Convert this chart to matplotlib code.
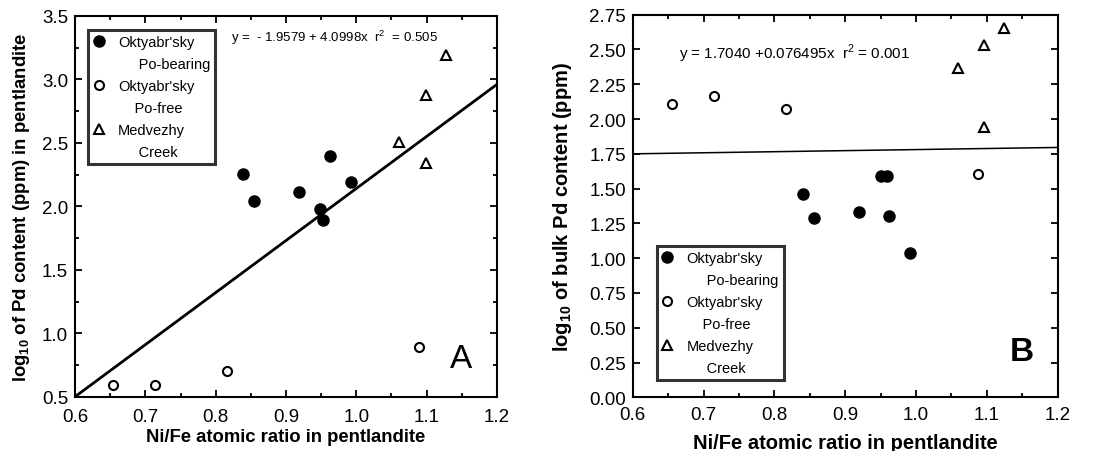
import matplotlib

matplotlib.use("Agg")
import matplotlib.pyplot as plt
from matplotlib.lines import Line2D
from matplotlib.ticker import MultipleLocator
import numpy as np

plt.rcParams["font.family"] = ["Liberation Sans", "DejaVu Sans"]
plt.rcParams["mathtext.fontset"] = "custom"
plt.rcParams["mathtext.rm"] = "Liberation Sans"
plt.rcParams["mathtext.bf"] = "Liberation Sans:bold"

# Panel A: Pd in pentlandite
a_bear_x = [0.839, 0.855, 0.919, 0.948, 0.952, 0.963, 0.992]
a_bear_y = [2.256, 2.041, 2.112, 1.980, 1.894, 2.395, 2.195]
a_free_x = [0.654, 0.714, 0.816, 1.089]
a_free_y = [0.597, 0.597, 0.702, 0.891]
a_med_x = [1.127, 1.099, 1.061, 1.099]
a_med_y = [3.193, 2.880, 2.510, 2.343]
a_fit = (-1.9579, 4.0998)

# Panel B: bulk Pd
b_bear_x = [0.840, 0.856, 0.919, 0.951, 0.959, 0.962, 0.991]
b_bear_y = [1.463, 1.290, 1.335, 1.588, 1.588, 1.302, 1.037]
b_free_x = [0.655, 0.715, 0.816, 1.088]
b_free_y = [2.110, 2.166, 2.069, 1.605]
b_med_x = [1.124, 1.096, 1.060, 1.096]
b_med_y = [2.654, 2.531, 2.365, 1.944]
b_fit = (1.7040, 0.076495)

legend_labels = ["Oktyabr'sky", "     Po-bearing", "Oktyabr'sky", "    Po-free", "Medvezhy", "     Creek"]


def draw_points(ax, bx, by, fx, fy, mx, my):
    ax.plot(bx, by, "o", ms=8, mfc="black", mec="black", ls="none")
    ax.plot(fx, fy, "o", ms=6.5, mfc="white", mec="black", mew=1.5, ls="none")
    ax.plot(mx, my, "^", ms=7.5, mfc="white", mec="black", mew=1.5, ls="none")


def add_legend(ax, anchor):
    blank = Line2D([], [], ls="none", marker=None)
    handles = [
        Line2D([], [], ls="none", marker="o", ms=8, mfc="black", mec="black"),
        blank,
        Line2D([], [], ls="none", marker="o", ms=6.5, mfc="white", mec="black", mew=1.5),
        blank,
        Line2D([], [], ls="none", marker="^", ms=7.5, mfc="white", mec="black", mew=1.5),
        blank,
    ]
    leg = ax.legend(handles, legend_labels, loc="upper left", bbox_to_anchor=anchor,
                    frameon=True, fancybox=False, edgecolor="black", fontsize=10.5,
                    handlelength=0.8, handletextpad=0.9, labelspacing=0.55,
                    borderpad=0.35, borderaxespad=0.0)
    leg.get_frame().set_linewidth(2.2)


def style_axes(ax, ymaj, ymin, xpad):
    ax.xaxis.set_major_locator(MultipleLocator(0.1))
    ax.xaxis.set_minor_locator(MultipleLocator(0.05))
    ax.yaxis.set_major_locator(MultipleLocator(ymaj))
    if ymin:
        ax.yaxis.set_minor_locator(MultipleLocator(ymin))
    ax.tick_params(which="both", direction="in", top=True, right=True, width=1.3, labelsize=13.5)
    ax.tick_params(which="major", length=5)
    ax.tick_params(which="minor", length=3)
    ax.tick_params(axis="x", which="major", pad=xpad)
    ax.tick_params(axis="y", which="major", pad=5)
    for s in ax.spines.values():
        s.set_linewidth(1.5)


fig = plt.figure(figsize=(11, 4.52), dpi=100)

ax1 = fig.add_axes([0.0682, 0.1195, 0.3836, 0.8429])
draw_points(ax1, a_bear_x, a_bear_y, a_free_x, a_free_y, a_med_x, a_med_y)
xs = np.array([0.6, 1.2])
ax1.plot(xs, a_fit[0] + a_fit[1] * xs, color="black", lw=2.0)
ax1.set_xlim(0.6, 1.2)
ax1.set_ylim(0.5, 3.5)
style_axes(ax1, 0.5, 0.25, 8)
ax1.yaxis.set_major_formatter(plt.FormatStrFormatter("%.1f"))
ax1.set_xlabel("Ni/Fe atomic ratio in pentlandite", fontsize=13.3, fontweight="bold", labelpad=2)
ax1.set_ylabel(r"log$_{\bf 10}$ of Pd content (ppm) in pentlandite", fontsize=13.3,
               fontweight="bold", labelpad=7)
ax1.text(0.37, 0.945, r"y =  - 1.9579 + 4.0998x  r$^2$  = 0.505", transform=ax1.transAxes,
         fontsize=9.5, ha="left", va="center")
ax1.text(0.915, 0.1, "A", transform=ax1.transAxes, fontsize=24, ha="center", va="center")
add_legend(ax1, (0.031, 0.963))

ax2 = fig.add_axes([0.5752, 0.1188, 0.3863, 0.8465])
draw_points(ax2, b_bear_x, b_bear_y, b_free_x, b_free_y, b_med_x, b_med_y)
ax2.plot(xs, b_fit[0] + b_fit[1] * xs, color="black", lw=1.1)
ax2.set_xlim(0.6, 1.2)
ax2.set_ylim(0.0, 2.75)
style_axes(ax2, 0.25, None, 6.5)
ax2.yaxis.set_major_formatter(plt.FormatStrFormatter("%.2f"))
ax2.set_xlabel("Ni/Fe atomic ratio in pentlandite", fontsize=14.5, fontweight="bold", labelpad=7)
ax2.set_ylabel(r"log$_{\bf 10}$ of bulk Pd content (ppm)", fontsize=14.5, fontweight="bold",
               labelpad=11)
ax2.text(0.11, 0.9, r"y = 1.7040 +0.076495x  r$^2$ = 0.001", transform=ax2.transAxes,
         fontsize=10.9, ha="left", va="center")
ax2.text(0.915, 0.12, "B", transform=ax2.transAxes, fontsize=24, fontweight="bold",
         ha="center", va="center")
add_legend(ax2, (0.056, 0.395))

fig.savefig("out.png", dpi=100)
plt.close(fig)
